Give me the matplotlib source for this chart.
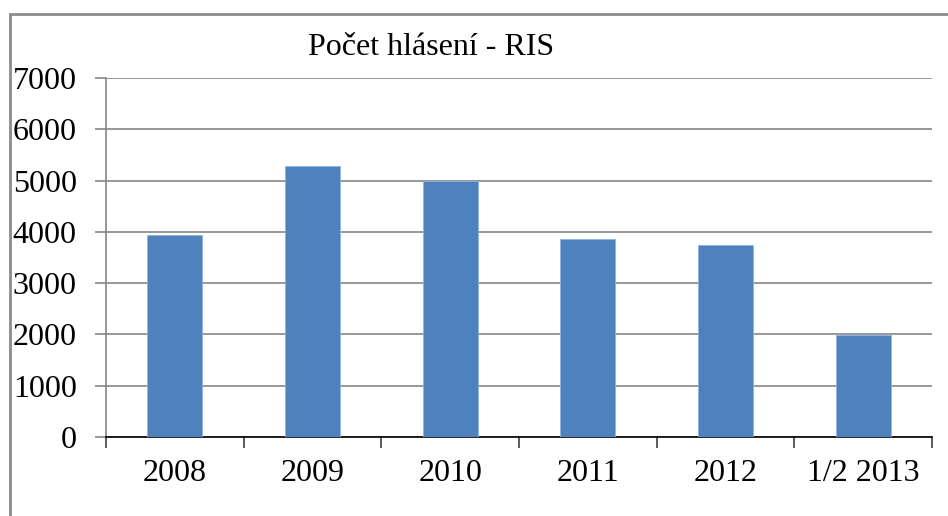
import numpy as np
import matplotlib.pyplot as plt
from matplotlib.patches import Rectangle

# data
categories = ['2008', '2009', '2010', '2011', '2012', '1/2 2013']
counts = [3935, 5290, 4990, 3870, 3740, 1990]
y_ticks = [0, 1000, 2000, 3000, 4000, 5000, 6000, 7000]

plt.rcParams['font.family'] = ['Liberation Serif', 'DejaVu Serif']

W, H = 948, 516
fig = plt.figure(figsize=(W / 100, H / 100), dpi=100)
ax = fig.add_axes([106 / W, 1 - 437 / H, (932 - 106) / W, (437 - 78) / H])

x = np.arange(len(categories))
ax.bar(x, counts, width=0.4, color='#4f81bd', edgecolor='#8eb4e3', linewidth=0.6, zorder=3)

ax.set_xlim(-0.5, len(categories) - 0.5)
ax.set_ylim(0, 7000)
ax.set_yticks(y_ticks)
ax.set_yticklabels([str(v) for v in y_ticks], fontsize=23)
ax.yaxis.grid(True, color='#868686', linewidth=1.2, zorder=0)

# category labels centred, ticks at boundaries
ax.set_xticks(x)
ax.set_xticklabels(categories, fontsize=23)
ax.tick_params(axis='x', length=0, pad=16)
ax.set_xticks(np.arange(len(categories) + 1) - 0.5, minor=True)
ax.tick_params(axis='x', which='minor', length=8, width=1.2, color='#404040')
ax.tick_params(axis='y', length=8, width=1.2, color='#868686', pad=13)

for side in ['top', 'right']:
    ax.spines[side].set_visible(False)
ax.spines['left'].set_color('#868686')
ax.spines['left'].set_linewidth(1.2)
ax.spines['bottom'].set_color('black')
ax.spines['bottom'].set_linewidth(1.2)

fig.text(308 / W, 1 - 48 / H, 'Počet hlásení - RIS', fontsize=23, ha='left', va='center')

# outer chart border
fig.patches.append(Rectangle((10 / W, -0.1), 1.2, 1.1 - 14 / H, transform=fig.transFigure,
                             fill=False, edgecolor='#8c8c8c', linewidth=2))

fig.savefig('out.png', dpi=100)
